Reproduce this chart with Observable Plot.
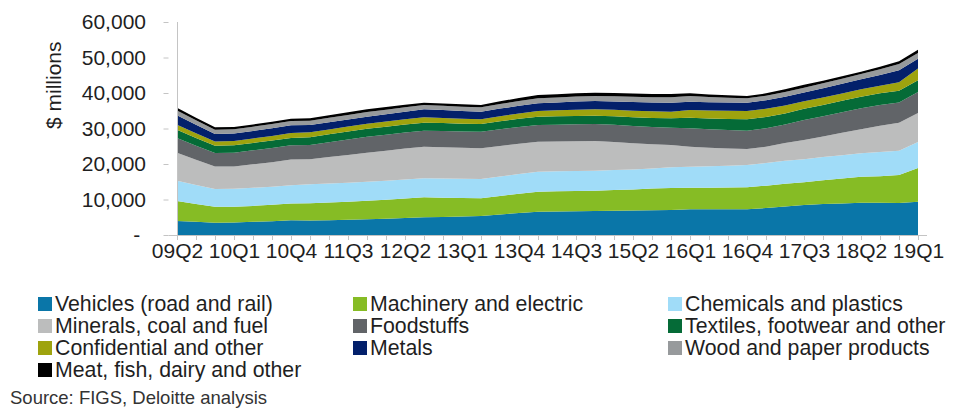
<!DOCTYPE html>
<html><head><meta charset="utf-8">
<script src="https://cdn.jsdelivr.net/npm/d3@7"></script>
<script src="https://cdn.jsdelivr.net/npm/@observablehq/plot@0.6"></script>
<style>
body{margin:0;background:#fff;font-family:"Liberation Sans",Arial,sans-serif;}
#wrap{position:relative;width:957px;height:415px;overflow:hidden;background:#fff;}
#chart{position:absolute;left:0;top:0;}
.item{position:absolute;display:flex;align-items:center;font-size:21.3px;line-height:22px;color:#1f1f1f;white-space:nowrap;}
.sw{width:14px;height:14px;margin-right:3px;flex:none;}
#source{position:absolute;left:10px;top:387px;font-size:18.5px;color:#333;white-space:nowrap;}
</style></head><body>
<div id="wrap"><div id="chart"></div><div id="legend"></div><div id="source">Source: FIGS, Deloitte analysis</div></div>
<script>
const quarters = ["09Q2","09Q3","09Q4","10Q1","10Q2","10Q3","10Q4","11Q1","11Q2","11Q3",
  "11Q4","12Q1","12Q2","12Q3","12Q4","13Q1","13Q2","13Q3","13Q4","14Q1",
  "14Q2","14Q3","14Q4","15Q1","15Q2","15Q3","15Q4","16Q1","16Q2","16Q3",
  "16Q4","17Q1","17Q2","17Q3","17Q4","18Q1","18Q2","18Q3","18Q4","19Q1"];
const tickLabels = ["09Q2","10Q1","10Q4","11Q3","12Q2","13Q1","13Q4","14Q3","15Q2","16Q1","16Q4","17Q3","18Q2","19Q1"];
const yTicks = [0,10000,20000,30000,40000,50000,60000];

const seriesNames = ["Vehicles (road and rail)","Machinery and electric","Chemicals and plastics",
  "Minerals, coal and fuel","Foodstuffs","Textiles, footwear and other",
  "Confidential and other","Metals","Wood and paper products","Meat, fish, dairy and other"];
const colors = ["#0a76a8","#86bc25","#a0dcf8","#bcbdbd","#616468","#056b37","#9ea30e","#03206b","#979a9c","#000000"];

const vehicles =     [3950,3700,3470,3500,3700,3900,4150,4050,4150,4280,4420,4600,4800,4990,5100,5200,5350,5800,6200,6570,6650,6700,6760,6850,6900,6980,7040,7240,7240,7240,7240,7600,8050,8450,8700,8900,9100,9050,9000,9380];
const machinery =    [5650,5050,4500,4450,4500,4600,4700,4900,5000,5120,5240,5350,5500,5630,5400,5200,4990,5200,5420,5630,5650,5700,5720,5850,5950,6100,6200,6050,6100,6150,6200,6300,6400,6420,6700,7000,7320,7500,7900,9500];
const chemicals =    [5700,5350,5000,5050,5100,5100,5150,5350,5350,5350,5350,5350,5350,5350,5400,5420,5435,5500,5570,5630,5630,5630,5630,5630,5630,5640,5830,5950,6050,6150,6280,6350,6450,6500,6550,6570,6590,6800,6850,7300];
const minerals =     [7900,7100,6300,6300,6600,6900,7250,7050,7450,7800,8180,8450,8700,8900,8850,8750,8645,8600,8530,8450,8420,8400,8370,7900,7400,6850,6280,5630,5200,4850,4510,4600,5000,5390,5800,6300,6760,7400,7900,8200];
const foodstuffs =   [4100,3950,3800,3900,3950,4000,4000,4030,4200,4350,4500,4500,4500,4510,4550,4600,4680,4700,4700,4710,4740,4770,4790,4800,4830,4860,4880,5190,5180,5170,5150,5200,5200,5640,5700,5800,5920,5850,5700,5900];
const textiles =     [2350,2200,2100,2100,2100,2100,2100,2170,2200,2230,2260,2260,2260,2260,2230,2200,2170,2250,2300,2340,2340,2340,2340,2400,2480,2560,2640,2990,3050,3130,3210,3200,3150,3150,3200,3230,3270,3300,3300,3300];
const confidential = [1400,1300,1200,1200,1250,1300,1400,1400,1400,1400,1400,1430,1470,1510,1450,1380,1320,1420,1500,1600,1680,1750,1800,1820,1840,1850,1860,2160,2220,2280,2340,2300,2250,2150,2100,2080,2080,2150,2350,3300];
const metals =       [2700,2400,2100,2100,2100,2150,2150,2060,2030,2000,1980,2050,2150,2260,2200,2170,2140,2150,2160,2170,2230,2290,2340,2380,2430,2480,2540,2340,2340,2340,2340,2400,2450,2450,2600,2700,2820,3050,3400,2800];
const wood =         [1300,1250,1200,1200,1200,1200,1200,1200,1250,1280,1320,1300,1250,1210,1230,1230,1240,1300,1350,1410,1410,1410,1410,1450,1480,1500,1520,1610,1500,1380,1240,1250,1300,1320,1380,1430,1490,1600,1750,1600];
const meat =         [800,720,650,650,650,650,650,700,720,740,760,740,700,650,650,650,650,750,850,930,930,930,930,920,900,920,900,750,720,680,650,700,800,840,750,700,650,700,800,900];

const seriesValues = [vehicles,machinery,chemicals,minerals,foodstuffs,textiles,confidential,metals,wood,meat];
const data = [];
seriesNames.forEach((s,i) => quarters.forEach((q,j) => data.push({quarter:q, series:s, value:seriesValues[i][j]})));

const axisColor = "#c4c4c4";
const textColor = "#1f1f1f";
const chart = Plot.plot({
  width: 957, height: 275,
  marginLeft: 168.5, marginRight: 30, marginTop: 22, marginBottom: 40,
  style: {fontFamily: "'Liberation Sans', Arial, sans-serif", fontSize: "21px", color: textColor, background: "transparent", overflow: "visible"},
  x: {type: "point", domain: quarters, padding: 0},
  y: {domain: [0, 60000]},
  color: {domain: seriesNames, range: colors},
  marks: [
    Plot.areaY(data, {x: "quarter", y: "value", fill: "series", z: "series", order: seriesNames}),
    Plot.ruleY([0], {stroke: axisColor}),
    Plot.ruleX([quarters[0]], {stroke: axisColor}),
    Plot.axisY({ticks: yTicks, tickSize: 5, tickPadding: 18, stroke: axisColor, fill: textColor, label: null,
      tickFormat: d => d === 0 ? "-\u00a0" : d3.format(",")(d)}),
    Plot.axisX({ticks: quarters, tickSize: 5, tickPadding: 3, stroke: axisColor, fill: textColor, label: null,
      tickFormat: q => tickLabels.includes(q) ? q : ""}),
    Plot.text(["$ millions"], {frameAnchor: "left", dx: -115, rotate: -90, fontSize: 21, fill: textColor})
  ]
});
document.getElementById("chart").appendChild(chart);

const legend = document.getElementById("legend");
const colX = [38, 353, 668];
const rowY = [293, 315, 337, 359];
seriesNames.forEach((s, i) => {
  const el = document.createElement("div");
  el.className = "item";
  el.style.left = colX[i % 3] + "px";
  el.style.top = rowY[Math.floor(i / 3)] + "px";
  el.innerHTML = `<span class="sw" style="background:${colors[i]}"></span><span>${s}</span>`;
  legend.appendChild(el);
});
</script>
</body></html>
